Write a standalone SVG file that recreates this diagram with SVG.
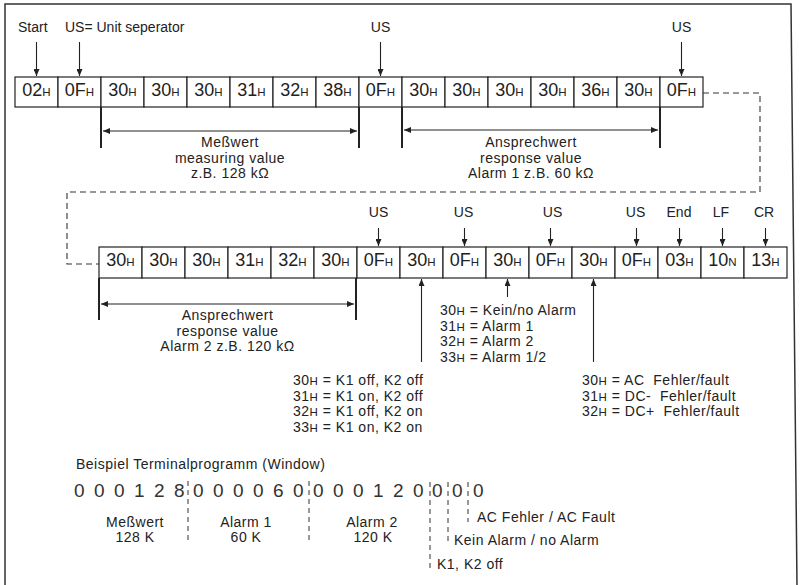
<svg xmlns="http://www.w3.org/2000/svg" width="800" height="585" viewBox="0 0 800 585">
<defs>
<marker id="ah" markerUnits="userSpaceOnUse" markerWidth="8" markerHeight="6" refX="7" refY="3" orient="auto-start-reverse">
<path d="M0,0 L7,3 L0,6 Z" fill="#222"/>
</marker>
</defs>
<style>
text{font-family:"Liberation Sans",Arial,sans-serif;fill:#222}
.box{fill:#fff;stroke:#222;stroke-width:1.2}
.b{font-size:18px;text-anchor:middle}
.s{font-size:11.5px}
.lbl{font-size:14px}
.c{text-anchor:middle}
.t{font-size:14px;letter-spacing:0.5px}
.pre{white-space:pre}
.ts{font-size:11.5px}
.arr{stroke:#222;stroke-width:1.1;fill:none;marker-end:url(#ah)}
.dbl{stroke:#222;stroke-width:1;fill:none;marker-start:url(#ah);marker-end:url(#ah)}
.brk{stroke:#222;stroke-width:2;fill:none}
.dash{stroke:#333;stroke-width:1.1;fill:none;stroke-dasharray:6,4}
.sep{stroke:#333;stroke-width:1;fill:none;stroke-dasharray:5,4}
.big{font-size:19px;fill:#333}
</style>
<path d="M5,585 V4 H791 L797,585" fill="none" stroke="#333" stroke-width="1.5"/>

<!-- Row 1 -->
<g id="r1b1"><rect class="box" x="15" y="77" width="43" height="30"/><text class="b" x="36.5" y="96">02<tspan class="s">H</tspan></text></g>
<g id="r1b2"><rect class="box" x="58" y="77" width="43" height="30"/><text class="b" x="79.5" y="96">0F<tspan class="s">H</tspan></text></g>
<g id="r1b3"><rect class="box" x="101" y="77" width="43" height="30"/><text class="b" x="122.5" y="96">30<tspan class="s">H</tspan></text></g>
<g id="r1b4"><rect class="box" x="144" y="77" width="43" height="30"/><text class="b" x="165.5" y="96">30<tspan class="s">H</tspan></text></g>
<g id="r1b5"><rect class="box" x="187" y="77" width="43" height="30"/><text class="b" x="208.5" y="96">30<tspan class="s">H</tspan></text></g>
<g id="r1b6"><rect class="box" x="230" y="77" width="43" height="30"/><text class="b" x="251.5" y="96">31<tspan class="s">H</tspan></text></g>
<g id="r1b7"><rect class="box" x="273" y="77" width="43" height="30"/><text class="b" x="294.5" y="96">32<tspan class="s">H</tspan></text></g>
<g id="r1b8"><rect class="box" x="316" y="77" width="43" height="30"/><text class="b" x="337.5" y="96">38<tspan class="s">H</tspan></text></g>
<g id="r1b9"><rect class="box" x="359" y="77" width="43" height="30"/><text class="b" x="380.5" y="96">0F<tspan class="s">H</tspan></text></g>
<g id="r1b10"><rect class="box" x="402" y="77" width="43" height="30"/><text class="b" x="423.5" y="96">30<tspan class="s">H</tspan></text></g>
<g id="r1b11"><rect class="box" x="445" y="77" width="43" height="30"/><text class="b" x="466.5" y="96">30<tspan class="s">H</tspan></text></g>
<g id="r1b12"><rect class="box" x="488" y="77" width="43" height="30"/><text class="b" x="509.5" y="96">30<tspan class="s">H</tspan></text></g>
<g id="r1b13"><rect class="box" x="531" y="77" width="43" height="30"/><text class="b" x="552.5" y="96">30<tspan class="s">H</tspan></text></g>
<g id="r1b14"><rect class="box" x="574" y="77" width="43" height="30"/><text class="b" x="595.5" y="96">36<tspan class="s">H</tspan></text></g>
<g id="r1b15"><rect class="box" x="617" y="77" width="43" height="30"/><text class="b" x="638.5" y="96">30<tspan class="s">H</tspan></text></g>
<g id="r1b16"><rect class="box" x="660" y="77" width="43" height="30"/><text class="b" x="681.5" y="96">0F<tspan class="s">H</tspan></text></g>

<!-- Row 2 -->
<g id="r2b1"><rect class="box" x="99" y="247" width="43" height="31"/><text class="b" x="120.5" y="266">30<tspan class="s">H</tspan></text></g>
<g id="r2b2"><rect class="box" x="142" y="247" width="43" height="31"/><text class="b" x="163.5" y="266">30<tspan class="s">H</tspan></text></g>
<g id="r2b3"><rect class="box" x="185" y="247" width="43" height="31"/><text class="b" x="206.5" y="266">30<tspan class="s">H</tspan></text></g>
<g id="r2b4"><rect class="box" x="228" y="247" width="43" height="31"/><text class="b" x="249.5" y="266">31<tspan class="s">H</tspan></text></g>
<g id="r2b5"><rect class="box" x="271" y="247" width="43" height="31"/><text class="b" x="292.5" y="266">32<tspan class="s">H</tspan></text></g>
<g id="r2b6"><rect class="box" x="314" y="247" width="43" height="31"/><text class="b" x="335.5" y="266">30<tspan class="s">H</tspan></text></g>
<g id="r2b7"><rect class="box" x="357" y="247" width="43" height="31"/><text class="b" x="378.5" y="266">0F<tspan class="s">H</tspan></text></g>
<g id="r2b8"><rect class="box" x="400" y="247" width="43" height="31"/><text class="b" x="421.5" y="266">30<tspan class="s">H</tspan></text></g>
<g id="r2b9"><rect class="box" x="443" y="247" width="43" height="31"/><text class="b" x="464.5" y="266">0F<tspan class="s">H</tspan></text></g>
<g id="r2b10"><rect class="box" x="486" y="247" width="43" height="31"/><text class="b" x="507.5" y="266">30<tspan class="s">H</tspan></text></g>
<g id="r2b11"><rect class="box" x="529" y="247" width="43" height="31"/><text class="b" x="550.5" y="266">0F<tspan class="s">H</tspan></text></g>
<g id="r2b12"><rect class="box" x="572" y="247" width="43" height="31"/><text class="b" x="593.5" y="266">30<tspan class="s">H</tspan></text></g>
<g id="r2b13"><rect class="box" x="615" y="247" width="43" height="31"/><text class="b" x="636.5" y="266">0F<tspan class="s">H</tspan></text></g>
<g id="r2b14"><rect class="box" x="658" y="247" width="43" height="31"/><text class="b" x="679.5" y="266">03<tspan class="s">H</tspan></text></g>
<g id="r2b15"><rect class="box" x="701" y="247" width="43" height="31"/><text class="b" x="722.5" y="266">10<tspan class="s">N</tspan></text></g>
<g id="r2b16"><rect class="box" x="744" y="247" width="43" height="31"/><text class="b" x="765.5" y="266">13<tspan class="s">H</tspan></text></g>

<!-- Labels -->
<g id="labels">
<text class="lbl" x="18" y="32">Start</text>
<text class="lbl" x="65" y="32">US= Unit seperator</text>
<text class="lbl c" x="380.5" y="32">US</text>
<text class="lbl c" x="681.5" y="32">US</text>
<text class="lbl c" x="378.5" y="217">US</text>
<text class="lbl c" x="463.5" y="217">US</text>
<text class="lbl c" x="552.5" y="217">US</text>
<text class="lbl c" x="635.5" y="217">US</text>
<text class="lbl c" x="679" y="217">End</text>
<text class="lbl c" x="721" y="217">LF</text>
<text class="lbl c" x="764" y="217">CR</text>
</g>

<!-- Brackets -->
<g id="bracket1">
<path class="brk" d="M101,107 V148 M359,107 V148"/>
<text class="t c" x="230" y="147">Meßwert</text>
<text class="t c" x="230" y="162.5">measuring value</text>
<text class="t c" x="230" y="178">z.B. 128 kΩ</text>
</g>
<g id="bracket2">
<path class="brk" d="M402,107 V148 M660,107 V148"/>
<text class="t c" x="531" y="147">Ansprechwert</text>
<text class="t c" x="531" y="162.5">response value</text>
<text class="t c" x="531" y="178">Alarm 1 z.B. 60 kΩ</text>
</g>
<g id="bracket3">
<path class="brk" d="M99,278 V320 M356,278 V320"/>
<text class="t c" x="227.5" y="320">Ansprechwert</text>
<text class="t c" x="227.5" y="335.5">response value</text>
<text class="t c" x="227.5" y="351">Alarm 2 z.B. 120 kΩ</text>
</g>

<!-- Legends -->
<g id="legendAlarm">
<text class="t" x="440" y="315">30<tspan class="ts">H</tspan> = Kein/no Alarm</text>
<text class="t" x="440" y="330.5">31<tspan class="ts">H</tspan> = Alarm 1</text>
<text class="t" x="440" y="346">32<tspan class="ts">H</tspan> = Alarm 2</text>
<text class="t" x="440" y="361.5">33<tspan class="ts">H</tspan> = Alarm 1/2</text>
</g>
<g id="legendK">
<text class="t" x="293" y="385">30<tspan class="ts">H</tspan> = K1 off, K2 off</text>
<text class="t" x="293" y="400.5">31<tspan class="ts">H</tspan> = K1 on, K2 off</text>
<text class="t" x="293" y="416">32<tspan class="ts">H</tspan> = K1 off, K2 on</text>
<text class="t" x="293" y="431.5">33<tspan class="ts">H</tspan> = K1 on, K2 on</text>
</g>
<g id="legendFault">
<text class="t pre" x="582" y="385">30<tspan class="ts">H</tspan> = AC  Fehler/fault</text>
<text class="t pre" x="582" y="400.5">31<tspan class="ts">H</tspan> = DC-  Fehler/fault</text>
<text class="t pre" x="582" y="416">32<tspan class="ts">H</tspan> = DC+  Fehler/fault</text>
</g>

<!-- Terminal example -->
<g id="terminal">
<text class="t" x="76" y="469">Beispiel Terminalprogramm (Window)</text>
<text class="big" x="74 94 114 134 154 174" y="497">000128</text>
<text class="big" x="193 213 233 253 273 293" y="497">000060</text>
<text class="big" x="313 333 353 373 393 413" y="497">000120</text>
<text class="big" x="432 452 473" y="497">000</text>
<path class="sep" d="M188,481 V540 M309,481 V540 M430,482 V568 M448,482 V545 M468,482 V522"/>
<text class="t c" x="135" y="526.5">Meßwert</text>
<text class="t c" x="135" y="542">128 K</text>
<text class="t c" x="246" y="526.5">Alarm 1</text>
<text class="t c" x="246" y="542">60 K</text>
<text class="t c" x="372" y="526.5">Alarm 2</text>
<text class="t c" x="373" y="542">120 K</text>
<text class="t" x="477" y="522">AC Fehler / AC Fault</text>
<text class="t" x="454" y="545">Kein Alarm / no Alarm</text>
<text class="t" x="437" y="569">K1, K2 off</text>
</g>

<!-- Connectors -->
<g id="connectors">
<path class="arr" d="M36.5,42 V76"/>
<path class="arr" d="M79.5,42 V76"/>
<path class="arr" d="M380.5,42 V76"/>
<path class="arr" d="M681.5,42 V76"/>
<path class="arr" d="M378.5,228 V246"/>
<path class="arr" d="M464.5,228 V246"/>
<path class="arr" d="M550.5,228 V246"/>
<path class="arr" d="M636.5,228 V246"/>
<path class="arr" d="M679.5,228 V246"/>
<path class="arr" d="M722.5,228 V246"/>
<path class="arr" d="M765.5,228 V246"/>
<path class="arr" d="M421.5,362 V279"/>
<path class="arr" d="M507.5,297 V279"/>
<path class="arr" d="M593.5,362 V279"/>
<path class="dbl" d="M103,131 H357"/>
<path class="dbl" d="M404,130 H658"/>
<path class="dbl" d="M101,304 H354"/>
<path class="dash" d="M703,93 H760 V192 H67 V264 H99"/>
</g>
</svg>
